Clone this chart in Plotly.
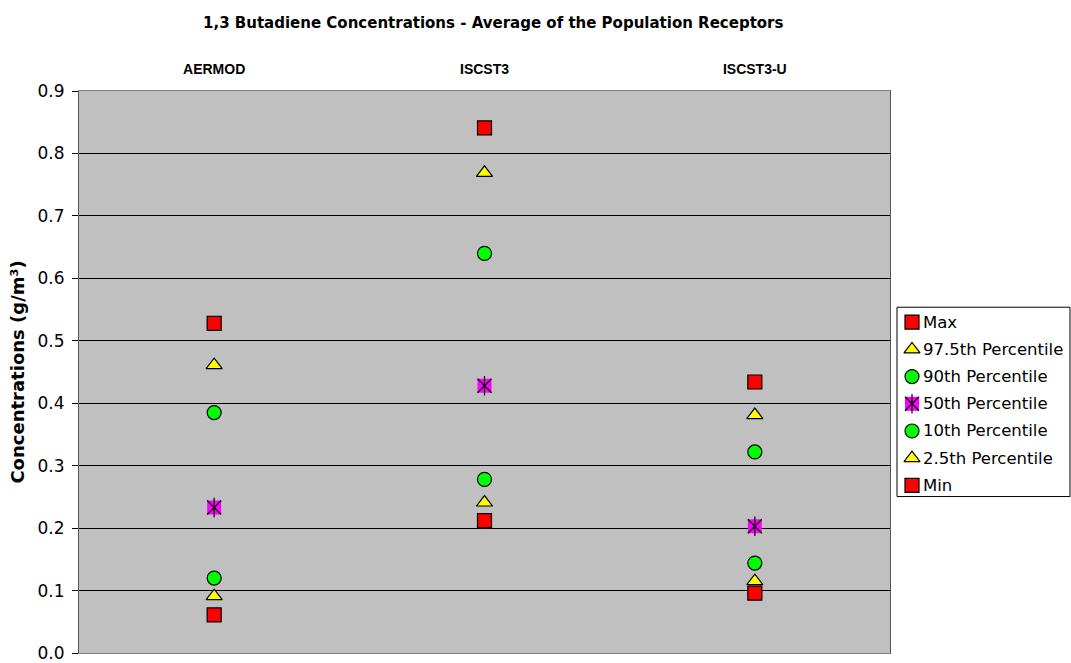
import plotly.graph_objects as go

models = ["AERMOD", "ISCST3", "ISCST3-U"]

max_vals = [0.528, 0.841, 0.434]
p975_vals = [0.461, 0.769, 0.381]
p90_vals = [0.385, 0.640, 0.322]
p50_vals = [0.233, 0.428, 0.203]
p10_vals = [0.120, 0.278, 0.144]
p25_vals = [0.091, 0.241, 0.115]
min_vals = [0.061, 0.212, 0.096]

y_ticks = [0.0, 0.1, 0.2, 0.3, 0.4, 0.5, 0.6, 0.7, 0.8, 0.9]

SANS = "Liberation Sans, Arial, sans-serif"
WIDE = "DejaVu Sans, Verdana, sans-serif"
MS = 14      # marker size in the plot
LMS = 14     # marker size in the legend

series = [
    ("Max", max_vals, "square", "#FF0000"),
    ("97.5th Percentile", p975_vals, "triangle-up", "#FFFF00"),
    ("90th Percentile", p90_vals, "circle", "#00FF00"),
    ("50th Percentile", p50_vals, "square", "#FF00FF"),
    ("10th Percentile", p10_vals, "circle", "#00FF00"),
    ("2.5th Percentile", p25_vals, "triangle-up", "#FFFF00"),
    ("Min", min_vals, "square", "#FF0000"),
]

# page geometry (pixels)
W, H = 1071, 663
ML, MT, MB = 79, 91, 8
plot_right = 890
area_w = W - ML
area_h = H - MT - MB

def px_x(px):
    return (px - ML) / area_w

def px_y(py):
    return (H - MB - py) / area_h

# legend box
LG_L, LG_R, LG_T, LG_B = 897, 1070, 308, 498
LG_W, LG_H = LG_R - LG_L, LG_B - LG_T
ROW0, ROW_STEP = 15, 27.3


def add_marks(fig, x, y, sym, col, size, star, xa, ya):
    fig.add_trace(go.Scatter(
        x=x, y=y, mode="markers", showlegend=False, xaxis=xa, yaxis=ya,
        marker=dict(symbol=sym, color=col, size=size,
                    line=dict(color="#000000", width=0 if star else 1.2)),
        hoverinfo="skip", cliponaxis=False,
    ))
    if star:
        # black asterisk over the magenta square
        for s in ("x-thin-open", "line-ns-open"):
            fig.add_trace(go.Scatter(
                x=x, y=y, mode="markers", showlegend=False, xaxis=xa, yaxis=ya,
                marker=dict(symbol=s, color="#000000", size=size,
                            line=dict(color="#000000", width=1.2)),
                hoverinfo="skip", cliponaxis=False,
            ))


fig = go.Figure()
for name, vals, sym, col in series:
    add_marks(fig, models, vals, sym, col, MS, name.startswith("50th"), "x", "y")

# legend entries drawn on their own small axes
annotations = []
for i, (name, vals, sym, col) in enumerate(series):
    row_y = ROW0 + i * ROW_STEP
    add_marks(fig, [15], [row_y], sym, col, LMS, name.startswith("50th"), "x2", "y2")
    annotations.append(dict(
        x=24, y=row_y, xref="x2", yref="y2", text=name, showarrow=False,
        xanchor="left", yanchor="middle",
        font=dict(family=WIDE, size=16.5, color="#000000"),
    ))

annotations.append(dict(
    x=px_x(493), y=px_y(23), xref="paper", yref="paper",
    text="<b>1,3 Butadiene Concentrations - Average of the Population Receptors</b>",
    showarrow=False, xanchor="center", yanchor="middle",
    font=dict(family=WIDE, size=15, color="#000000"),
))

fig.update_layout(
    width=W, height=H,
    margin=dict(l=ML, r=0, t=MT, b=MB),
    paper_bgcolor="#FFFFFF",
    plot_bgcolor="#FFFFFF",
    font=dict(family=SANS, size=14, color="#000000"),
    showlegend=False,
    annotations=annotations,
    shapes=[
        dict(type="rect", xref="x domain", yref="y domain", x0=0, x1=1, y0=0, y1=1,
             fillcolor="#C0C0C0", line=dict(width=0), layer="below"),
        dict(type="rect", xref="x2 domain", yref="y2 domain", x0=0, x1=1, y0=0, y1=1,
             fillcolor="#FFFFFF", line=dict(color="#000000", width=1), layer="below"),
    ],
    xaxis=dict(
        domain=[0, px_x(plot_right)], anchor="y",
        side="top", type="category", range=[-0.5, 2.5],
        showgrid=False, zeroline=False, ticks="", ticklabelstandoff=10,
        tickfont=dict(size=14, family=SANS, weight="bold"),
        showline=True, linecolor="#808080", linewidth=1, mirror=True,
    ),
    yaxis=dict(
        domain=[0, 1], anchor="x",
        range=[0, 0.9], tickvals=y_ticks,
        ticktext=[f"{v:.1f}" for v in y_ticks],
        showgrid=True, gridcolor="#000000", gridwidth=1, zeroline=False,
        ticks="outside", ticklen=6, tickcolor="#000000",
        ticklabelstandoff=4, ticklabeloverflow="allow",
        showline=True, linecolor="#555555", linewidth=1, mirror=True,
        title=dict(text="<b>Concentrations (g/m³)</b>",
                   font=dict(size=18, family=WIDE), standoff=8),
        tickfont=dict(size=17, family=WIDE),
    ),
    xaxis2=dict(
        domain=[px_x(LG_L), px_x(LG_R)], anchor="y2", range=[0, LG_W],
        visible=False, fixedrange=True,
    ),
    yaxis2=dict(
        domain=[px_y(LG_B), px_y(LG_T)], anchor="x2", range=[LG_H, 0],
        visible=False, fixedrange=True,
    ),
)

fig.write_html("out.html")
